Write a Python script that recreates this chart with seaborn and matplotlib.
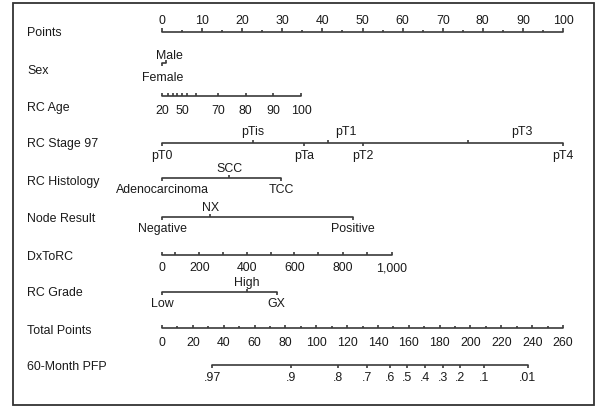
import matplotlib
matplotlib.use("Agg")
import matplotlib.pyplot as plt
import seaborn as sns
import pandas as pd
from matplotlib.patches import Rectangle

# ---------------- data ----------------
points_major = list(range(0, 101, 10))
points_minor = list(range(5, 100, 10))

sex_levels = ["Female", "Male"]
sex_points = [0.0, 1.0]
sex_above = [False, True]

age_values = [20, 30, 40, 45, 50, 55, 60, 70, 80, 90, 100]
age_points = [0.0, 1.6, 2.7, 3.7, 5.0, 6.2, 8.5, 13.9, 20.9, 27.7, 34.7]
age_labelled = [20, 50, 70, 80, 90, 100]

stage_levels = ["pT0", "pTis", "pTa", "pT1", "pT2", "pT3", "pT4"]
stage_points = [0.0, 22.6, 35.4, 41.5, 50.1, 76.4, 100.0]
stage_above = [False, True, False, True, False, True, False]

hist_levels = ["Adenocarcinoma", "SCC", "TCC"]
hist_points = [0.0, 16.7, 29.8]
hist_above = [False, True, False]

node_levels = ["Negative", "NX", "Positive"]
node_points = [0.0, 12.0, 47.7]
node_above = [False, True, False]

dx_values = [0, 100, 200, 300, 400, 500, 600, 700, 800, 900, 1000]
dx_points = [0.0, 3.2, 9.3, 15.1, 21.1, 27.1, 33.0, 39.0, 45.1, 51.2, 57.3]
dx_labelled = [0, 200, 400, 600, 800, 1000]

grade_levels = ["Low", "High", "GX"]
grade_points = [0.0, 21.1, 28.6]
grade_above = [False, True, False]

total_major = list(range(0, 261, 20))
total_minor = list(range(10, 260, 20))
total_max = 260

pfp_values = [0.97, 0.9, 0.8, 0.7, 0.6, 0.5, 0.4, 0.3, 0.2, 0.1, 0.01]
pfp_labels = [".97", ".9", ".8", ".7", ".6", ".5", ".4", ".3", ".2", ".1", ".01"]
pfp_total = [32.6, 83.4, 114.3, 132.7, 147.8, 159.1, 170.5, 182.0, 193.2, 209.0, 237.1]

row_names = ["Points", "Sex", "RC Age", "RC Stage 97", "RC Histology",
             "Node Result", "DxToRC", "RC Grade", "Total Points", "60-Month PFP"]

# ---------------- style / layout ----------------
sns.set_style("white")
plt.rcParams["font.family"] = ["Liberation Sans", "DejaVu Sans"]
FS = 8.9
LC = "#3a3a3a"
TC = "#1a1a1a"
LW = 1.2

W, H = 595, 410
X0, PX_PER_PT = 162.0, 4.01
fig = plt.figure(figsize=(W / 100, H / 100), dpi=100)
ax = fig.add_axes([0, 0, 1, 1])

# row label / line y positions (pixels)
label_y = [33, 71, 108, 144, 182, 219, 257, 293.5, 331, 367]
line_y = {"Points": 33, "Sex": 64, "RC Age": 97, "RC Stage 97": 144,
          "RC Histology": 179, "Node Result": 217.5, "DxToRC": 256,
          "RC Grade": 292.5, "Total Points": 329, "60-Month PFP": 366}
stage_label_dx = {"pT1": 17, "pT3": 53}   # label shift in pixels
sex_label_dx = {"Male": 3, "Female": 1}

# horizontal scale lines drawn via seaborn
seg_rows = []
def add_seg(name, xs):
    seg_rows.append({"row": name, "x": min(xs), "y": line_y[name]})
    seg_rows.append({"row": name, "x": max(xs), "y": line_y[name]})

tot_scale = 100.0 / total_max
add_seg("Points", points_major)
add_seg("Sex", sex_points)
add_seg("RC Age", age_points)
add_seg("RC Stage 97", stage_points)
add_seg("RC Histology", hist_points)
add_seg("Node Result", node_points)
add_seg("DxToRC", dx_points)
add_seg("RC Grade", grade_points)
add_seg("Total Points", [v * tot_scale for v in total_major])
add_seg("60-Month PFP", [v * tot_scale for v in pfp_total])
seg_df = pd.DataFrame(seg_rows)
sns.lineplot(data=seg_df, x="x", y="y", units="row", estimator=None,
             color=LC, lw=LW, ax=ax, legend=False, sort=True)
ax.set_xlim(-X0 / PX_PER_PT, (W - X0) / PX_PER_PT)
ax.set_ylim(H, 0)
ax.axis("off")

for name, y in zip(row_names, label_y):
    ax.text((27 - X0) / PX_PER_PT, y, name, ha="left", va="center",
            fontsize=FS, color=TC)


def ticks(name, xs, length, up=True):
    y = line_y[name]
    y2 = y - length if up else y + length
    ax.vlines(xs, y, y2, color=LC, lw=LW)


def tick_labels(xs, labels, y):
    for x, t in zip(xs, labels):
        ax.text(x, y, t, ha="center", va="center", fontsize=FS, color=TC)


# Points
ticks("Points", points_major, 4)
ticks("Points", points_minor, 2)
tick_labels(points_major, [str(v) for v in points_major], 21)

# Categorical rows
def categorical(name, levels, pts, above, dx=None, up_y=11.5, dn_y=12.5):
    y = line_y[name]
    dx = dx or {}
    for lev, p, a in zip(levels, pts, above):
        ax.vlines(p, y, y - 3 if a else y + 3, color=LC, lw=LW)
        off = dx.get(lev, 0) / PX_PER_PT
        ax.text(p + off, y - up_y if a else y + dn_y, lev, ha="center",
                va="center", fontsize=FS, color=TC)

categorical("Sex", sex_levels, sex_points, sex_above, sex_label_dx, 8, 14)

# RC Age
ticks("RC Age", age_points, 3)
tick_labels([p for v, p in zip(age_values, age_points) if v in age_labelled],
            [str(v) for v in age_values if v in age_labelled], 110.5)

categorical("RC Stage 97", stage_levels, stage_points, stage_above, stage_label_dx)
categorical("RC Histology", hist_levels, hist_points, hist_above, None, 9.5, 11)
categorical("Node Result", node_levels, node_points, node_above, None, 9.5, 11.5)

# DxToRC
ticks("DxToRC", dx_points, 3)
tick_labels([p for v, p in zip(dx_values, dx_points) if v in dx_labelled],
            [f"{v:,}" for v in dx_values if v in dx_labelled], 268.5)

categorical("RC Grade", grade_levels, grade_points, grade_above, None, 9.5, 12)

# Total Points
ticks("Total Points", [v * tot_scale for v in total_major], 3.5)
ticks("Total Points", [v * tot_scale for v in total_minor], 2.5)
tick_labels([v * tot_scale for v in total_major], [str(v) for v in total_major], 343)

# 60-Month PFP
ticks("60-Month PFP", [v * tot_scale for v in pfp_total], 3, up=False)
tick_labels([v * tot_scale for v in pfp_total], pfp_labels, 378)

# outer frame
fig.patches.append(Rectangle((12.5 / W, 1 - 406 / H), (594 - 12.5) / W, (406 - 3.5) / H,
                             transform=fig.transFigure, fill=False,
                             edgecolor="#333333", lw=1.3))

fig.savefig("out.png", dpi=100)
